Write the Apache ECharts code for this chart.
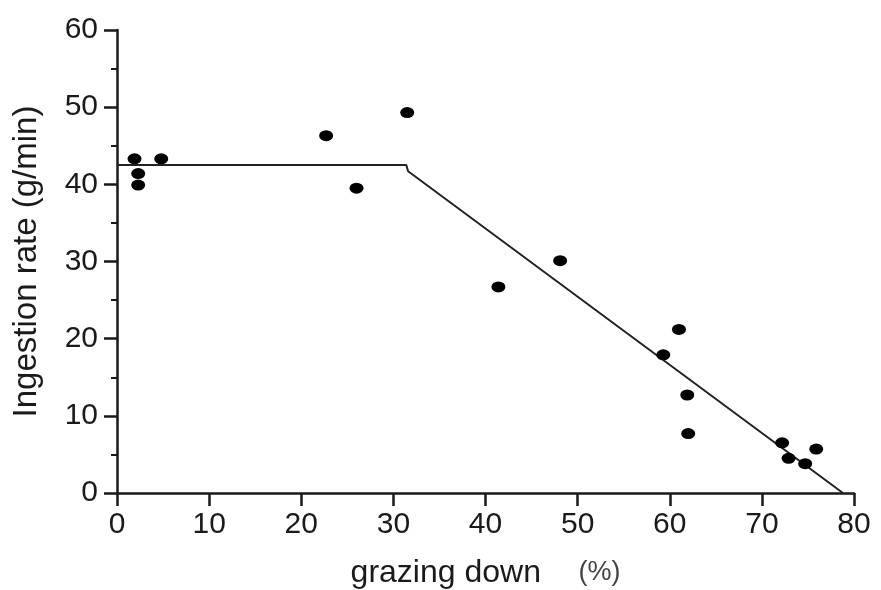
<!DOCTYPE html>
<html>
<head>
<meta charset="utf-8">
<script src="https://cdn.jsdelivr.net/npm/echarts@6/dist/echarts.min.js"></script>
<style>
  html, body { margin: 0; padding: 0; background: #ffffff; }
  #chart { width: 881px; height: 590px; }
</style>
</head>
<body>
<div id="chart"></div>
<script>
// Observed ingestion rate against grazing down (%)
const grazingDown = [1.9, 2.3, 2.3, 4.8, 22.7, 26.0, 31.5, 41.4, 48.1, 59.3, 61.0, 61.9, 62.0, 72.2, 72.9, 74.7, 75.9];
const ingestionRate = [43.3, 41.4, 39.9, 43.3, 46.3, 39.5, 49.3, 26.7, 30.1, 17.9, 21.2, 12.7, 7.7, 6.5, 4.5, 3.8, 5.7];

// Broken-stick fit: plateau, then linear decline to zero
const fitX = [0, 31.4, 31.6, 78.8];
const fitY = [42.5, 42.5, 41.7, 0];

const xTicks = [0, 10, 20, 30, 40, 50, 60, 70, 80];
const yTicks = [0, 10, 20, 30, 40, 50, 60];

const points = grazingDown.map((x, i) => [x, ingestionRate[i]]);
const fitLine = fitX.map((x, i) => [x, fitY[i]]);

const FONT = '"Liberation Sans", Arial, sans-serif';
const INK = '#1a1a1a';

const chart = echarts.init(document.getElementById('chart'), null, { renderer: 'canvas' });
chart.setOption({
  backgroundColor: '#ffffff',
  animation: false,
  grid: { left: 117, right: 27, top: 30, bottom: 97, containLabel: false, outerBoundsMode: 'none' },
  xAxis: {
    type: 'value',
    min: xTicks[0],
    max: xTicks[xTicks.length - 1],
    interval: 10,
    name: '{a|grazing down}{b|     (%)}',
    nameLocation: 'middle',
    nameGap: 64,
    nameTextStyle: {
      rich: {
        a: { fontFamily: FONT, fontSize: 32, color: INK },
        b: { fontFamily: FONT, fontSize: 27, color: '#444' }
      }
    },
    axisLine: { show: true, lineStyle: { color: INK, width: 2.5 } },
    axisTick: { show: true, length: 13, lineStyle: { color: INK, width: 2.5 } },
    axisLabel: { margin: 17, fontFamily: FONT, fontSize: 30, color: INK },
    splitLine: { show: false }
  },
  yAxis: {
    type: 'value',
    min: yTicks[0],
    max: yTicks[yTicks.length - 1],
    interval: 10,
    name: 'Ingestion rate (g/min)',
    nameLocation: 'middle',
    nameGap: 74,
    nameTextStyle: { fontFamily: FONT, fontSize: 33, color: INK },
    axisLine: { show: true, lineStyle: { color: INK, width: 2.5 } },
    axisTick: { show: true, length: 13, lineStyle: { color: INK, width: 2.5 } },
    minorTick: { show: true, splitNumber: 2, length: 6, lineStyle: { color: INK, width: 2 } },
    axisLabel: { margin: 19, fontFamily: FONT, fontSize: 30, color: INK },
    splitLine: { show: false },
    minorSplitLine: { show: false }
  },
  series: [
    {
      type: 'line',
      data: fitLine,
      symbol: 'none',
      lineStyle: { color: '#222', width: 2 },
      z: 2
    },
    {
      type: 'scatter',
      data: points,
      symbol: 'circle',
      symbolSize: [14, 11],
      itemStyle: { color: '#000', opacity: 1 },
      z: 3
    }
  ]
});
</script>
</body>
</html>
